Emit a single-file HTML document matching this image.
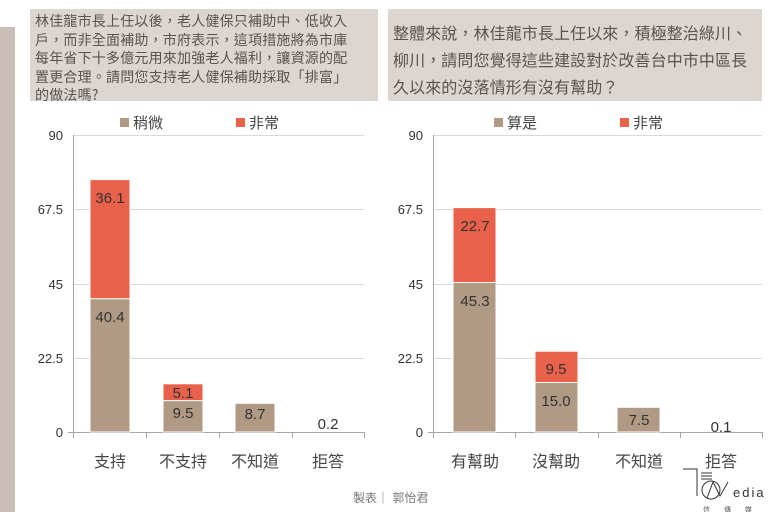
<!DOCTYPE html>
<html><head><meta charset="utf-8"><style>
html,body{margin:0;padding:0;background:#fff;}
body{width:768px;height:512px;overflow:hidden;position:relative;font-family:"Liberation Sans","Noto Sans CJK TC",sans-serif;}
.side{position:absolute;left:0;top:27px;width:15px;height:485px;background:#c9bfb8;}
.box{position:absolute;background:#ddd5cf;color:#5a5450;white-space:nowrap;font-family:"Noto Sans CJK TC",sans-serif;}
</style></head><body>
<div class="side"></div>
<div class="box" style="left:30px;top:9px;width:348px;height:92px;font-size:14px;letter-spacing:0.2px;line-height:18.5px;padding:3px 0 0 5px;box-sizing:border-box;">林佳龍市長上任以後，老人健保只補助中、低收入<br>戶，而非全面補助，市府表示，這項措施將為市庫<br>每年省下十多億元用來加強老人福利，讓資源的配<br>置更合理。請問您支持老人健保補助採取「排富」<br>的做法嗎?</div>
<div class="box" style="left:388px;top:9px;width:374px;height:92px;font-size:16px;letter-spacing:0.1px;line-height:27px;padding:10px 0 0 5px;box-sizing:border-box;">整體來說，林佳龍市長上任以來，積極整治綠川、<br>柳川，請問您覺得這些建設對於改善台中市中區長<br>久以來的沒落情形有沒有幫助？</div>
<svg width="768" height="512" style="position:absolute;left:0;top:0" font-family="Liberation Sans, Noto Sans CJK TC, sans-serif">
<g stroke="#d9d9d9" stroke-width="1">
<line x1="73" y1="135.5" x2="364" y2="135.5"/><line x1="73" y1="209.5" x2="364" y2="209.5"/><line x1="73" y1="284.5" x2="364" y2="284.5"/><line x1="73" y1="358.5" x2="364" y2="358.5"/>
<line x1="433" y1="135.5" x2="762" y2="135.5"/><line x1="433" y1="209.5" x2="762" y2="209.5"/><line x1="433" y1="284.5" x2="762" y2="284.5"/><line x1="433" y1="358.5" x2="762" y2="358.5"/>
</g>
<g stroke="#a6a6a6" stroke-width="1">
<line x1="73.5" y1="135" x2="73.5" y2="438"/><line x1="68" y1="432.5" x2="364" y2="432.5"/>
<line x1="146.5" y1="432" x2="146.5" y2="438"/><line x1="219.5" y1="432" x2="219.5" y2="438"/><line x1="292.5" y1="432" x2="292.5" y2="438"/><line x1="364.5" y1="432" x2="364.5" y2="438"/>
<line x1="433.5" y1="135" x2="433.5" y2="438"/><line x1="428" y1="432.5" x2="762" y2="432.5"/>
<line x1="515.5" y1="432" x2="515.5" y2="438"/><line x1="598.5" y1="432" x2="598.5" y2="438"/><line x1="680.5" y1="432" x2="680.5" y2="438"/><line x1="762.5" y1="432" x2="762.5" y2="438"/>
</g>
<g font-size="13" fill="#333" text-anchor="end">
<text x="63" y="140">90</text><text x="63" y="214">67.5</text><text x="63" y="289">45</text><text x="63" y="363">22.5</text><text x="63" y="437">0</text>
<text x="423" y="140">90</text><text x="423" y="214">67.5</text><text x="423" y="289">45</text><text x="423" y="363">22.5</text><text x="423" y="437">0</text>
</g>
<g stroke="#fff" stroke-width="1">
<rect x="90" y="298.7" width="40" height="133.3" fill="#b09a84"/>
<rect x="90" y="179.6" width="40" height="119.1" fill="#e9604b"/>
<rect x="163" y="400.6" width="40" height="31.4" fill="#b09a84"/>
<rect x="163" y="383.8" width="40" height="16.8" fill="#e9604b"/>
<rect x="235" y="403.3" width="40" height="28.7" fill="#b09a84"/>
<rect x="453" y="282.5" width="43" height="149.5" fill="#b09a84"/>
<rect x="453" y="207.6" width="43" height="74.9" fill="#e9604b"/>
<rect x="535" y="382.5" width="43" height="49.5" fill="#b09a84"/>
<rect x="535" y="351.2" width="43" height="31.3" fill="#e9604b"/>
<rect x="617" y="407.3" width="43" height="24.7" fill="#b09a84"/>
</g>
<g font-size="15" fill="#333" text-anchor="middle">
<text x="110" y="203">36.1</text><text x="110" y="322">40.4</text>
<text x="183" y="398">5.1</text><text x="183" y="418">9.5</text>
<text x="255" y="419">8.7</text><text x="328" y="429">0.2</text>
<text x="475" y="231">22.7</text><text x="475" y="306">45.3</text>
<text x="556" y="374">9.5</text><text x="556" y="406">15.0</text>
<text x="639" y="425">7.5</text><text x="721" y="432">0.1</text>
</g>
<g font-size="16" fill="#444" text-anchor="middle">
<text x="110" y="467">支持</text><text x="183" y="467">不支持</text><text x="255" y="467">不知道</text><text x="328" y="467">拒答</text>
<text x="475" y="467">有幫助</text><text x="556" y="467">沒幫助</text><text x="639" y="467">不知道</text><text x="721" y="467">拒答</text>
</g>
<g font-size="15" fill="#444">
<rect x="120" y="118" width="9" height="9" fill="#b09a84"/><text x="133" y="128">稍微</text>
<rect x="236" y="118" width="9" height="9" fill="#e9604b"/><text x="249" y="128">非常</text>
<rect x="494" y="118" width="9" height="9" fill="#b09a84"/><text x="507" y="128">算是</text>
<rect x="620" y="118" width="9" height="9" fill="#e9604b"/><text x="633" y="128">非常</text>
</g>
<text x="353" y="502" font-size="12" fill="#777">製表｜ 郭怡君</text>
<g stroke="#333" fill="none" stroke-width="1">
<polyline points="683,469 697,469 697,496"/>
<line x1="701" y1="473" x2="712" y2="473"/><line x1="701" y1="476" x2="712" y2="476"/><line x1="701" y1="479" x2="712" y2="479"/>
<circle cx="711" cy="490" r="9"/>
<polyline points="707,498 713,482 720,496 728,482"/>
</g>
<text x="733" y="497" font-size="13" fill="#333" letter-spacing="2">edia</text>
<text x="703" y="512" font-size="7" fill="#555" letter-spacing="14">信傳媒</text>
</svg>
</body></html>
